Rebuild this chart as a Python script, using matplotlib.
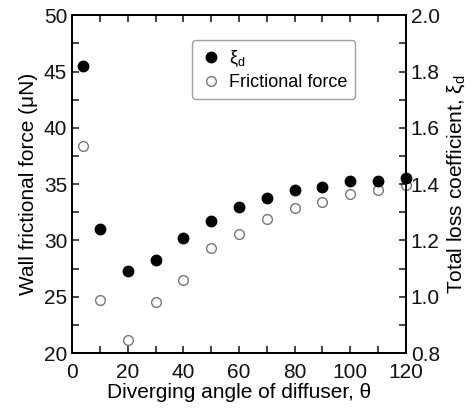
import matplotlib
matplotlib.use("Agg")
import matplotlib.pyplot as plt
from matplotlib.ticker import MultipleLocator

plt.rcParams["font.family"] = ["Liberation Sans", "DejaVu Sans"]
plt.rcParams["mathtext.fontset"] = "custom"
plt.rcParams["mathtext.rm"] = "Liberation Sans"

# diverging angle (deg)
angle = [4, 10, 20, 30, 40, 50, 60, 70, 80, 90, 100, 110, 120]
# total loss coefficient xi_d (right axis)
xi_d = [1.82, 1.24, 1.09, 1.13, 1.21, 1.27, 1.32, 1.35, 1.38, 1.39, 1.41, 1.41, 1.42]
# wall frictional force, uN (left axis)
friction = [38.4, 24.7, 21.2, 24.5, 26.5, 29.3, 30.6, 31.9, 32.9, 33.4, 34.1, 34.5, 34.9]

fig = plt.figure(figsize=(4.77, 4.11), dpi=100)
ax = fig.add_axes([0.151, 0.141, 0.700, 0.822])
ax2 = ax.twinx()

p_open, = ax.plot(angle, friction, "o", ms=7, mfc="white", mec="#777777",
                  mew=1.0, clip_on=False, zorder=3)
p_fill, = ax2.plot(angle, xi_d, "o", ms=7.5, color="black", clip_on=False,
                   zorder=4)

ax.set_xlim(0, 120)
ax.set_ylim(20, 50)
ax2.set_ylim(0.8, 2.0)

ax.xaxis.set_major_locator(MultipleLocator(20))
ax.xaxis.set_minor_locator(MultipleLocator(10))
ax.yaxis.set_major_locator(MultipleLocator(5))
ax.yaxis.set_minor_locator(MultipleLocator(2.5))
ax2.yaxis.set_major_locator(MultipleLocator(0.2))
ax2.yaxis.set_minor_locator(MultipleLocator(0.1))

for a in (ax, ax2):
    for s in a.spines.values():
        s.set_linewidth(1.3)
    a.tick_params(which="both", direction="in", length=5, width=1.1,
                  labelsize=15, colors="#111111")
ax.tick_params(which="both", top=True, right=False)
ax2.tick_params(which="both", left=False)
ax.tick_params(axis="x", pad=7)

ax2.set_yticklabels([f"{v:.1f}" for v in ax2.get_yticks()])

ax.set_xlabel("Diverging angle of diffuser, θ", fontsize=15, labelpad=1)
ax.set_ylabel("Wall frictional force (μN)", fontsize=15, labelpad=4)
ax2.set_ylabel(r"Total loss coefficient, ξ$_{\rm d}$", fontsize=15, labelpad=4)

leg = ax.legend([p_fill, p_open], [r"ξ$_{\rm d}$", "Frictional force"],
                loc="upper left", bbox_to_anchor=(0.359, 0.926), fontsize=13,
                borderaxespad=0, frameon=True, fancybox=True,
                edgecolor="#888888", handletextpad=0.4, borderpad=0.45,
                labelspacing=0.3, handlelength=1.2)
leg.get_frame().set_linewidth(1.0)

fig.savefig("out.png", dpi=100)
